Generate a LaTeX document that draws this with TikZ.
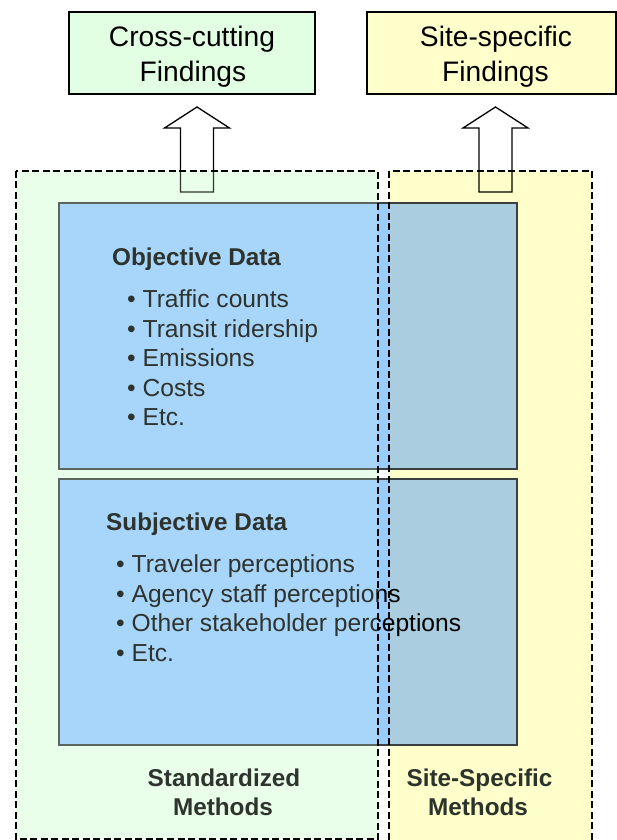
\documentclass[tikz,border=0pt]{standalone}
\usepackage{fontspec}
\setmainfont{Liberation Sans}
\definecolor{stdgreen}{HTML}{EAFFEA}
\definecolor{stdveil}{HTML}{E6FFE6}
\definecolor{siteyellow}{HTML}{FFFFCC}
\definecolor{crossgreen}{HTML}{E3FFE3}
\definecolor{databl}{HTML}{99CCFF}
\definecolor{datamix}{HTML}{AACEDF}
\definecolor{dataedge}{HTML}{3A4040}
\definecolor{labeldark}{HTML}{2B332B}
\begin{document}
\begin{tikzpicture}[x=1bp,y=-1bp,
  region/.style={rectangle, draw=none, inner sep=0pt, outer sep=0pt},
  datbox/.style={rectangle, fill=databl, draw=none, inner sep=0pt, outer sep=0pt,
    minimum width=458bp, minimum height=266bp},
  findbox/.style={rectangle, draw=black, line width=1.4bp, inner sep=0pt, outer sep=0pt,
    minimum height=82bp},
  bodytext/.style={font=\fontsize{24.6bp}{29bp}\selectfont, inner sep=0pt, anchor=base west},
  headtext/.style={font=\fontsize{24.3bp}{29bp}\selectfont\bfseries, inner sep=0pt, anchor=base west},
  titletext/.style={font=\fontsize{28.2bp}{34bp}\selectfont, inner sep=0pt, anchor=base},
  methodtext/.style={font=\fontsize{24.3bp}{29bp}\selectfont\bfseries, inner sep=0pt, anchor=base},
  dashedge/.style={draw=black, line width=2bp, dash pattern=on 7bp off 3.5bp},
  blockarrow/.style={draw=black, line width=1.3bp, line join=miter}]
\useasboundingbox (0,0) rectangle (617,840);
\clip (0,0) rectangle (617,840);

% method regions (background fills)
\node[region, fill=stdgreen, minimum width=362bp, minimum height=668bp] (std) at (197,505) {};
\node[region, fill=siteyellow, minimum width=203bp, minimum height=700bp] (site) at (490.5,521) {};

% data boxes
\node[datbox] (obj) at (288,336) {};
\node[datbox] (subj) at (288,612) {};
\fill[datamix] (site.west |- obj.north) rectangle (obj.south east);
\fill[datamix] (site.west |- subj.north) rectangle (subj.south east);
\draw[dataedge, line width=1.3bp] (obj.north west) rectangle (obj.south east);
\draw[dataedge, line width=1.3bp] (subj.north west) rectangle (subj.south east);

% block arrows from the regions up to the findings
\coordinate (stdup) at (197,192);
\coordinate (siteup) at (495.5,192);
\draw[blockarrow] (stdup) ++(-16.5,0) -- ++(0,-64) -- ++(-16,0) -- ++(32.5,-21)
  -- ++(32.5,21) -- ++(-16,0) -- ++(0,64) -- cycle;
\draw[blockarrow] (siteup) ++(-16.5,0) -- ++(0,-64) -- ++(-16,0) -- ++(32.5,-21)
  -- ++(32.5,21) -- ++(-16,0) -- ++(0,64) -- cycle;

% objective data
\node[headtext] (objhead) at (112,265) {Objective Data};
\node[bodytext] (obj1) at (127,307) {• Traffic counts};
\node[bodytext] (obj2) at (127,337) {• Transit ridership};
\node[bodytext] (obj3) at (127,366.5) {• Emissions};
\node[bodytext] (obj4) at (127,396) {• Costs};
\node[bodytext] (obj5) at (127,425.5) {• Etc.};

% subjective data
\node[headtext] (subjhead) at (106,530) {Subjective Data};
\node[bodytext] (subj1) at (116,572.5) {• Traveler perceptions};
\node[bodytext] (subj2) at (116,602) {• Agency staff perceptions};
\node[bodytext] (subj3) at (116,631.5) {• Other stakeholder perceptions};
\node[bodytext] (subj4) at (116,661.5) {• Etc.};

% region labels
\node[methodtext] (stdl1) at (224,786) {Standardized};
\node[methodtext] (stdl2) at (223,815) {Methods};

% translucent veil of the standardized region
\fill[stdveil, fill opacity=0.2] (std.north west) rectangle (std.south east);

\node[methodtext, text=labeldark] (sitel1) at (479.5,786) {Site-Specific};
\node[methodtext, text=labeldark] (sitel2) at (478,815) {Methods};

% dashed region outlines
\draw[dashedge] (std.north west) rectangle (std.south east);
\draw[dashedge] (site.north west) rectangle (site.south east);

% findings
\node[findbox, fill=crossgreen, minimum width=246bp] (cross) at (192,53) {};
\node[titletext] (crossl1) at (192,46.7) {Cross-cutting};
\node[titletext] (crossl2) at (193,81) {Findings};
\node[findbox, fill=siteyellow, minimum width=249bp] (sitefind) at (491.5,53) {};
\node[titletext] (sitefl1) at (496,46.7) {Site-specific};
\node[titletext] (sitefl2) at (495.5,81) {Findings};
\end{tikzpicture}
\end{document}
